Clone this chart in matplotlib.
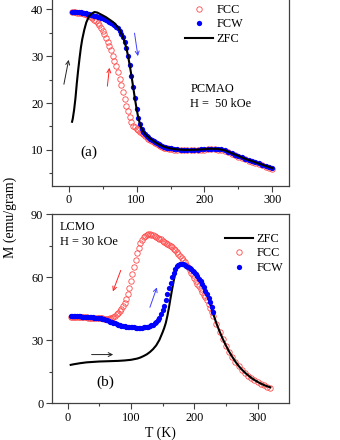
import matplotlib
matplotlib.use('Agg')
import matplotlib.pyplot as plt

plt.rcParams['font.family'] = ['Liberation Serif', 'DejaVu Serif']

# ---------------- Panel (a): PCMAO, H = 50 kOe ----------------
T_a = [5, 7.5, 10, 12.5, 15, 17.5, 20, 22.5, 25, 27.5,
       30, 32.5, 35, 37.5, 40, 42.5, 45, 47.5, 50, 52.5,
       55, 57.5, 60, 62.5, 65, 67.5, 70, 72.5, 75, 77.5,
       80, 82.5, 85, 87.5, 90, 92.5, 95, 97.5, 100, 102.5,
       105, 107.5, 110, 112.5, 115, 117.5, 120, 122.5, 125, 127.5,
       130, 132.5, 135, 137.5, 140, 142.5, 145, 147.5, 150,
       155, 160, 165, 170, 175, 180, 185, 190, 195, 200,
       205, 210, 215, 220, 225, 230, 235, 240, 245, 250,
       255, 260, 265, 270, 275, 280, 285, 290, 295, 300]

FCW_a = [39.5, 39.5, 39.45, 39.4, 39.4, 39.35, 39.3, 39.2, 39.1, 39.0,
         38.9, 38.8, 38.7, 38.6, 38.5, 38.4, 38.3, 38.2, 38.1, 37.9,
         37.7, 37.5, 37.3, 37.1, 36.9, 36.6, 36.3, 35.9, 35.4, 34.8,
         34.0, 33.0, 31.7, 30.0, 28.0, 25.8, 23.4, 21.0, 18.8, 16.9,
         15.5, 14.5, 13.9, 13.4, 13.0, 12.7, 12.4, 12.1, 11.9, 11.6,
         11.4, 11.2, 11.0, 10.8, 10.7, 10.6, 10.5, 10.4, 10.3,
         10.2, 10.1, 10.0, 10.0, 10.0, 10.0, 10.0, 10.05, 10.1, 10.15,
         10.2, 10.25, 10.25, 10.2, 10.1, 9.9, 9.6, 9.3, 9.0, 8.7,
         8.4, 8.1, 7.85, 7.6, 7.35, 7.1, 6.85, 6.6, 6.35, 6.1]

FCC_a = [39.4, 39.4, 39.35, 39.3, 39.25, 39.2, 39.1, 39.0, 38.9, 38.8,
         38.6, 38.4, 38.1, 37.8, 37.5, 37.1, 36.6, 36.0, 35.4, 34.7,
         33.9, 33.1, 32.2, 31.2, 30.1, 29.0, 27.8, 26.6, 25.2, 23.8,
         22.3, 20.8, 19.4, 18.2, 17.0, 16.0, 15.2, 14.8, 14.5, 14.2,
         13.9, 13.6, 13.3, 13.0, 12.7, 12.4, 12.1, 11.9, 11.6, 11.4,
         11.2, 11.0, 10.8, 10.7, 10.5, 10.4, 10.3, 10.2, 10.1,
         10.0, 9.95, 9.9, 9.9, 9.9, 9.9, 9.9, 9.95, 10.0, 10.05,
         10.1, 10.1, 10.1, 10.05, 9.95, 9.75, 9.45, 9.15, 8.85, 8.55,
         8.25, 7.95, 7.7, 7.45, 7.2, 6.95, 6.7, 6.45, 6.2, 5.95]

T_zfc_a = [5, 6, 8, 10, 12, 14, 16, 18, 20, 23, 26, 30, 34, 38, 42, 46, 50,
           55, 60, 65, 70, 75, 80, 82.5, 85, 87.5, 90, 92.5, 95, 97.5, 100,
           102.5, 105, 107.5, 110, 115, 120, 130, 140, 150, 160, 170, 180,
           190, 200, 210, 220, 230, 240, 250, 260, 270, 280, 290, 300]
ZFC_a = [16.0, 16.6, 18.5, 21.0, 24.2, 27.0, 29.5, 31.8, 33.6, 35.6, 37.2,
         38.5, 39.1, 39.4, 39.3, 39.0, 38.7, 38.3, 37.8, 37.3, 36.6, 35.6,
         34.0, 33.0, 31.7, 30.0, 28.0, 25.8, 23.4, 21.0, 18.8, 16.9, 15.5,
         14.5, 13.9, 13.0, 12.4, 11.4, 10.7, 10.3, 10.1, 10.0, 10.0, 10.05,
         10.15, 10.25, 10.2, 9.9, 9.3, 8.7, 8.1, 7.6, 7.1, 6.6, 6.1]

# ---------------- Panel (b): LCMO, H = 30 kOe ----------------
T_b = [5, 7.5, 10, 12.5, 15, 17.5, 20, 22.5, 25, 27.5,
       30, 32.5, 35, 37.5, 40, 42.5, 45, 47.5, 50, 52.5,
       55, 57.5, 60, 62.5, 65, 67.5, 70, 72.5, 75, 77.5,
       80, 82.5, 85, 87.5, 90, 92.5, 95, 97.5, 100, 102.5,
       105, 107.5, 110, 112.5, 115, 117.5, 120, 122.5, 125, 127.5,
       130, 132.5, 135, 137.5, 140, 142.5, 145, 147.5, 150, 152.5,
       155, 157.5, 160, 162.5, 165, 167.5, 170, 172.5, 175, 177.5,
       180, 182.5, 185, 187.5, 190, 192.5, 195, 197.5, 200, 202.5,
       205, 207.5, 210, 212.5, 215, 217.5, 220, 222.5, 225, 227.5,
       230]
T_b_tail = [235, 240, 245, 250, 255, 260, 265, 270, 275, 280,
            285, 290, 295, 300, 305, 310, 315, 320]

FCW_b = [41.8, 41.7, 41.6, 41.5, 41.5, 41.4, 41.4, 41.3, 41.3, 41.2,
         41.2, 41.1, 41.0, 41.0, 40.9, 40.8, 40.7, 40.6, 40.5, 40.4,
         40.2, 40.0, 39.8, 39.5, 39.2, 38.9, 38.6, 38.3, 38.0, 37.7,
         37.4, 37.2, 37.0, 36.8, 36.6, 36.5, 36.4, 36.3, 36.2, 36.1,
         36.1, 36.0, 36.0, 36.0, 36.0, 36.0, 36.1, 36.2, 36.3, 36.5,
         36.8, 37.1, 37.5, 38.0, 38.7, 39.6, 40.8, 42.3, 44.2, 46.5,
         49.2, 52.0, 54.8, 57.5, 60.0, 62.2, 64.0, 65.3, 66.0, 66.4,
         66.4, 66.2, 65.9, 65.5, 65.0, 64.4, 63.8, 63.1, 62.3, 61.4,
         60.4, 59.3, 58.1, 56.8, 55.3, 53.7, 52.0, 50.2, 48.2, 46.0,
         43.6]

FCC_b = [41.3, 41.2, 41.2, 41.1, 41.1, 41.0, 41.0, 41.0, 40.9, 40.9,
         40.9, 40.8, 40.8, 40.7, 40.7, 40.6, 40.6, 40.5, 40.5, 40.4,
         40.4, 40.3, 40.3, 40.3, 40.3, 40.4, 40.6, 41.0, 41.6, 42.3,
         43.1, 44.0, 45.1, 46.4, 47.9, 49.8, 52.0, 54.8, 58.0, 61.5,
         65.0, 68.4, 71.4, 74.0, 76.1, 77.8, 79.0, 79.8, 80.3, 80.5,
         80.4, 80.2, 79.9, 79.6, 79.2, 78.8, 78.4, 78.0, 77.5, 77.0,
         76.5, 76.0, 75.4, 74.8, 74.2, 73.5, 72.8, 72.0, 71.2, 70.3,
         69.3, 68.3, 67.2, 66.0, 64.8, 63.5, 62.2, 60.9, 59.6, 58.3,
         57.0, 55.8, 54.5, 53.2, 51.8, 50.4, 49.0, 47.4, 45.6, 43.7,
         41.8]
FCC_b_tail = [37.8, 34.0, 30.5, 27.4, 24.5, 22.0, 19.7, 17.7, 16.0, 14.5,
              13.2, 12.0, 11.0, 10.1, 9.3, 8.6, 8.0, 7.5]

T_zfc_b = [5, 10, 20, 30, 40, 50, 60, 70, 80, 90, 100, 110,
           115, 120, 125, 130, 135, 140, 145, 150,
           152.5, 155, 157.5, 160, 162.5, 165, 167.5, 170, 172.5, 175, 177.5, 180,
           185, 190, 195, 200, 205, 210, 215, 220, 225, 230,
           235, 240, 245, 250, 255, 260, 265, 270, 275, 280,
           285, 290, 295, 300, 305, 310, 315, 320]
ZFC_b = [18.3, 18.6, 19.1, 19.5, 19.7, 19.9, 20.0, 20.1, 20.2, 20.4, 20.7, 21.3,
         21.8, 22.5, 23.3, 24.4, 25.8, 27.6, 30.2, 33.8,
         35.8, 38.2, 41.5, 45.5, 50.0, 54.3, 58.3, 61.6, 64.2, 65.8, 66.4, 66.3,
         65.6, 64.6, 63.3, 61.7, 59.8, 57.6, 55.0, 51.8, 47.6, 42.5,
         38.0, 34.2, 30.6, 27.5, 24.6, 22.1, 19.8, 17.8, 16.1, 14.6,
         13.3, 12.1, 11.1, 10.2, 9.4, 8.7, 8.1, 7.6]

RED = '#ff4a4a'
BLUE = '#0000ff'
FS = 8.8

fig = plt.figure(figsize=(3.4, 4.4), dpi=100)
ax1 = fig.add_axes([0.152, 0.5773, 0.699, 0.455])
ax2 = fig.add_axes([0.152, 0.0834, 0.699, 0.4296])

# panel a
ax1.plot(T_a, FCC_a, ls='none', marker='o', mfc='none', mec=RED, ms=3.9, mew=0.6, label='FCC')
ax1.plot(T_a, FCW_a, ls='none', marker='o', mfc=BLUE, mec=BLUE, ms=3.8, mew=0, label='FCW')
ax1.plot(T_zfc_a, ZFC_a, '-', color='k', lw=1.5, label='ZFC')
ax1.set_xlim(-25, 325)
ax1.set_ylim(2.3, 45)
ax1.set_xticks([0, 100, 200, 300])
ax1.set_xticks([50, 150, 250], minor=True)
ax1.set_yticks([10, 20, 30, 40])
ax1.set_yticks([5, 15, 25, 35], minor=True)

# panel b
ax2.plot(T_b + T_b_tail, FCC_b + FCC_b_tail, ls='none', marker='o', mfc='none', mec=RED, ms=3.9, mew=0.6, label='FCC')
ax2.plot(T_zfc_b, ZFC_b, '-', color='k', lw=1.5, label='ZFC')
ax2.plot(T_b, FCW_b, ls='none', marker='o', mfc=BLUE, mec=BLUE, ms=3.8, mew=0, label='FCW')
ax2.set_xlim(-25, 350)
ax2.set_ylim(0, 90)
ax2.set_xticks([0, 100, 200, 300])
ax2.set_xticks([50, 150, 250], minor=True)
ax2.set_yticks([0, 30, 60, 90])
ax2.set_yticks([15, 45, 75], minor=True)

for ax in (ax1, ax2):
    for s in ax.spines.values():
        s.set_color('#404040')
        s.set_linewidth(0.9)
    ax.tick_params(which='major', direction='out', length=4, width=0.8,
                   labelsize=FS, pad=2, color='#404040')
    ax.tick_params(which='minor', direction='out', length=2.2, width=0.8, color='#404040')

# legends
h1, l1 = ax1.get_legend_handles_labels()
ax1.legend(h1, l1, loc='upper left', bbox_to_anchor=(185 / 340, 1 - 4 / 440),
           bbox_transform=fig.transFigure, frameon=False, fontsize=FS,
           handlelength=2.3, handletextpad=0.25, labelspacing=0.2,
           borderpad=0, borderaxespad=0, numpoints=1)
h2, l2 = ax2.get_legend_handles_labels()
order = [1, 0, 2]
ax2.legend([h2[i] for i in order], [l2[i] for i in order], loc='upper left',
           bbox_to_anchor=(225 / 340, 1 - 233 / 440),
           bbox_transform=fig.transFigure, frameon=False, fontsize=FS,
           handlelength=2.3, handletextpad=0.25, labelspacing=0.2,
           borderpad=0, borderaxespad=0, numpoints=1)

# annotations
ax1.text(179, 23.0, 'PCMAO', fontsize=FS, va='center', ha='left')
ax1.text(179, 19.8, 'H =  50 kOe', fontsize=FS, va='center', ha='left')
ax1.text(17, 9.4, '(a)', fontsize=11, va='center', ha='left')
ax2.text(-12, 83.9, 'LCMO', fontsize=FS, va='center', ha='left')
ax2.text(-12, 76.7, 'H = 30 kOe', fontsize=FS, va='center', ha='left')
ax2.text(45, 10.0, '(b)', fontsize=11, va='center', ha='left')

def arrow(ax, tail, head, color):
    ax.annotate('', xy=head, xytext=tail,
                arrowprops=dict(arrowstyle='->', color=color, lw=0.7,
                                shrinkA=0, shrinkB=0, mutation_scale=7))

arrow(ax1, (-7, 24.0), (0, 29.2), '#222222')
arrow(ax1, (97, 34.9), (102, 30.0), '#4040ff')
arrow(ax1, (57, 23.6), (60, 27.5), '#ff2020')
arrow(ax2, (84, 63.3), (71.6, 53.3), '#ff2020')
arrow(ax2, (130, 45.7), (141, 55.2), '#4040ff')
arrow(ax2, (38, 23.2), (72, 23.2), '#222222')

fig.text(0.03, 0.505, 'M (emu/gram)', rotation=90, ha='center', va='center', fontsize=10)
fig.text(160 / 340, 1 - 433 / 440, 'T (K)', ha='center', va='center', fontsize=10)

fig.savefig('out.png', dpi=100)
